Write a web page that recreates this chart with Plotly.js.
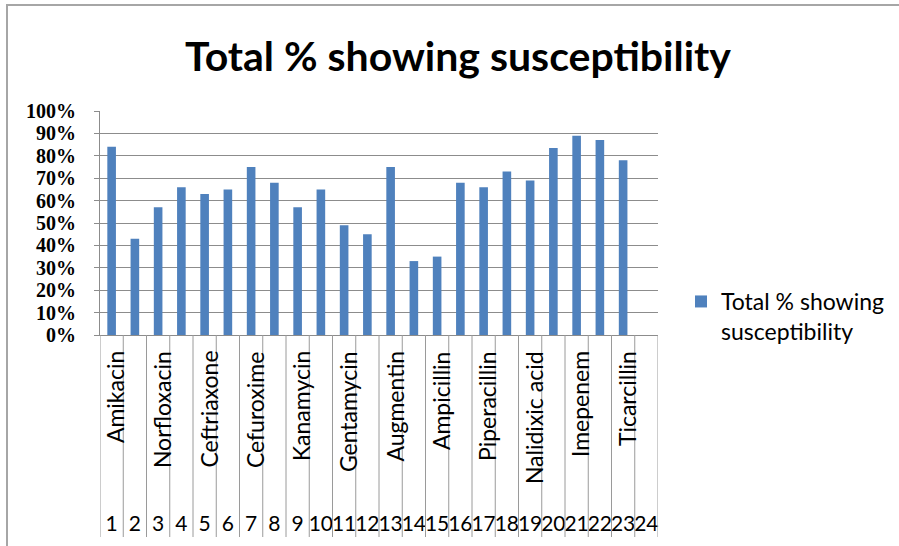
<!DOCTYPE html>
<html>
<head>
<meta charset="utf-8">
<script src="https://cdn.plot.ly/plotly-3.0.1.min.js"></script>
<style>html,body{margin:0;padding:0;background:#fff;}#chart{width:899px;height:546px;}</style>
</head>
<body>
<div id="chart"></div>
<script>
var categoryNumbers = [1,2,3,4,5,6,7,8,9,10,11,12,13,14,15,16,17,18,19,20,21,22,23,24];
var categoryNames = ["Amikacin","","Norfloxacin","","Ceftriaxone","","Cefuroxime","","Kanamycin","","Gentamycin","","Augmentin","","Ampicillin","","Piperacillin","","Nalidixic acid","","Imepenem","","Ticarcillin",""];
var susceptibility = [0.84,0.43,0.57,0.66,0.63,0.65,0.75,0.68,0.57,0.65,0.49,0.45,0.75,0.33,0.35,0.68,0.66,0.73,0.69,0.835,0.89,0.87,0.78,null];
var yTicks = [0,0.1,0.2,0.3,0.4,0.5,0.6,0.7,0.8,0.9,1.0];
var seriesName = "Total % showing<br>susceptibility";

var L = 100, R = 658, T = 111, B = 335, W = 899, H = 546;
function px2x(p){ return (p - L) / (R - L); }
function px2y(p){ return (B - p) / (B - T); }

var shapes = [];
// category dividers extending through label area
for (var i = 0; i <= categoryNumbers.length; i++) {
  shapes.push({type:'line', xref:'x', yref:'paper', x0:i+0.5, x1:i+0.5, y0:0, y1:px2y(537),
    line:{color:'#9a9a9a', width:1}});
}
// outer chart border (left/top)
shapes.push({type:'rect', xref:'paper', yref:'paper', x0:px2x(7), x1:px2x(910), y0:px2y(560), y1:px2y(5),
  line:{color:'#a6a6a6', width:2}, fillcolor:'rgba(0,0,0,0)', layer:'below'});

var annotations = [];
for (var j = 0; j < categoryNames.length; j++) {
  if (!categoryNames[j]) continue;
  annotations.push({xref:'x', yref:'paper', x:categoryNumbers[j]+0.15, y:px2y(349),
    text:categoryNames[j], textangle:-90, showarrow:false, xanchor:'center', yanchor:'top',
    font:{family:'Lato, Calibri, sans-serif', size:23, color:'#000'}});
}

var trace = {
  type:'bar', x:categoryNumbers, y:susceptibility, name:seriesName,
  marker:{color:'#4F81BD'}, showlegend:true
};

var layout = {
  width:W, height:H,
  margin:{l:L, r:W-R, t:T, b:H-B, pad:0},
  paper_bgcolor:'#fff', plot_bgcolor:'#fff',
  bargap:0.63,
  title:{text:'<b>Total % showing susceptibility</b>', xref:'container', yref:'container',
    x:458/W, y:1-57/H, xanchor:'center', yanchor:'middle',
    font:{family:'Lato, Calibri, sans-serif', size:41, color:'#000'}},
  xaxis:{range:[0.5,24.5], tickmode:'array', tickvals:categoryNumbers, ticktext:categoryNumbers.map(String),
    tickangle:0, showgrid:false, zeroline:false, showline:true, linecolor:'#8c8c8c', linewidth:1,
    ticks:'', ticklabelstandoff:170, automargin:false,
    tickfont:{family:'Lato, Calibri, sans-serif', size:21, color:'#000'}},
  yaxis:{range:[0,1], tickmode:'array', tickvals:yTicks, tickformat:'.0%',
    showgrid:true, gridcolor:'#8c8c8c', gridwidth:1, zeroline:false,
    showline:true, linecolor:'#8c8c8c', linewidth:1, ticks:'outside', ticklen:5, tickcolor:'#8c8c8c',
    ticklabelstandoff:14, automargin:false,
    tickfont:{family:'Liberation Serif, serif', size:20, color:'#000', weight:'bold'}},
  legend:{xref:'container', yref:'container', x:681/W, y:1-280/H, xanchor:'left', yanchor:'top',
    valign:'top', font:{family:'Lato, Calibri, sans-serif', size:23, color:'#000'},
    bgcolor:'rgba(0,0,0,0)'},
  shapes:shapes,
  annotations:annotations
};

Plotly.newPlot('chart', [trace], layout, {displayModeBar:false, staticPlot:true});
</script>
</body>
</html>
